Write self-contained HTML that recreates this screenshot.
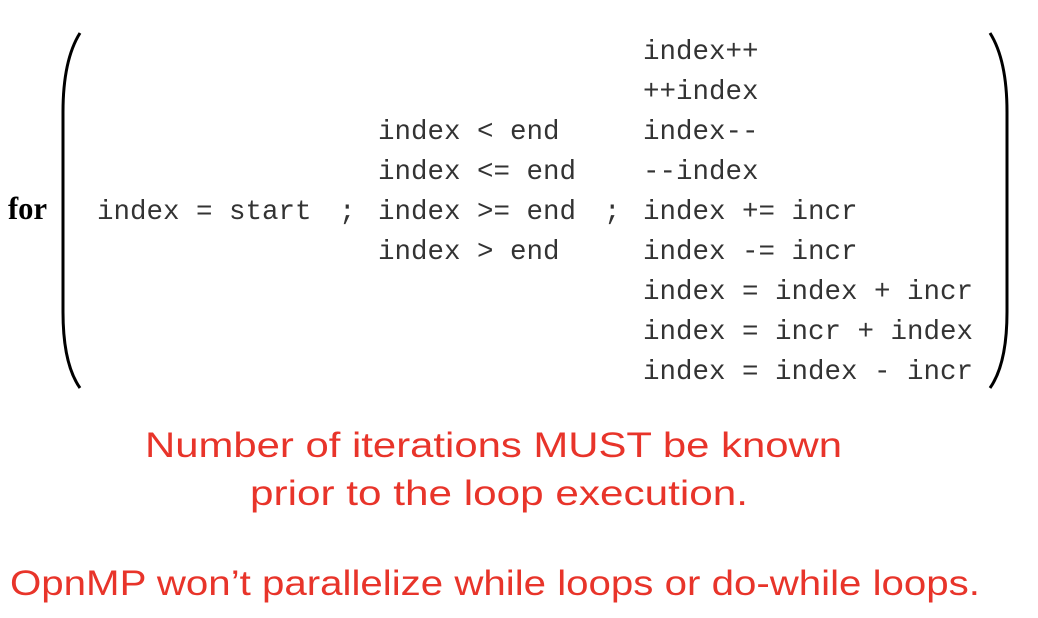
<!DOCTYPE html>
<html><head><style>html,body{margin:0;padding:0;background:#fff;}svg{display:block}</style></head>
<body>
<svg width="1038" height="618" xmlns="http://www.w3.org/2000/svg">
<rect width="1038" height="618" fill="#fff"/>
<text x="8" y="219" font-family="Liberation Serif" font-weight="bold" font-size="32" fill="#000" textLength="39" lengthAdjust="spacingAndGlyphs">for</text>
<path d="M80,33 Q63,60 63,112 L63,312 Q63,364 80,388" fill="none" stroke="#000" stroke-width="3"/>
<path d="M990,33 Q1007,60 1007,112 L1007,312 Q1007,364 990,388" fill="none" stroke="#000" stroke-width="3"/>
<g font-family="Liberation Mono" font-size="27.5" fill="#333" xml:space="preserve">
<text x="97" y="219">index = start</text>
<text x="339" y="219">;</text>
<text x="604" y="219">;</text>
<text x="378" y="139">index &lt; end</text>
<text x="378" y="179">index &lt;= end</text>
<text x="378" y="219">index &gt;= end</text>
<text x="378" y="259">index &gt; end</text>
<text x="643" y="59">index++</text>
<text x="643" y="99">++index</text>
<text x="643" y="139">index--</text>
<text x="643" y="179">--index</text>
<text x="643" y="219">index += incr</text>
<text x="643" y="259">index -= incr</text>
<text x="643" y="299">index = index + incr</text>
<text x="643" y="339">index = incr + index</text>
<text x="643" y="379">index = index - incr</text>
</g>
<g font-family="Liberation Sans" font-size="35" fill="#e8342a">
<text x="145" y="457" textLength="697" lengthAdjust="spacingAndGlyphs">Number of iterations MUST be known</text>
<text x="250" y="505" textLength="498" lengthAdjust="spacingAndGlyphs">prior to the loop execution.</text>
<text x="10" y="595" textLength="970" lengthAdjust="spacingAndGlyphs">OpnMP won’t parallelize while loops or do-while loops.</text>
</g>
</svg>
</body></html>
